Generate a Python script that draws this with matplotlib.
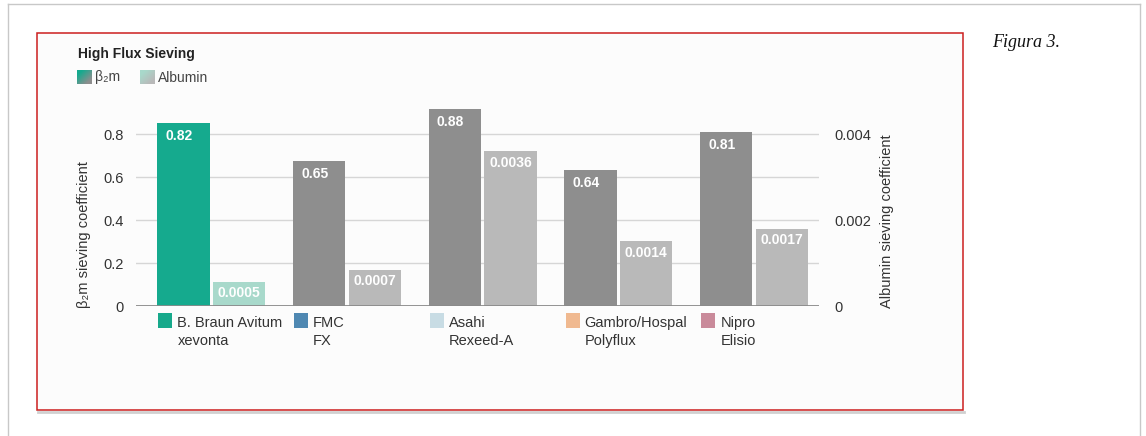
import matplotlib
matplotlib.use('Agg')
import matplotlib.pyplot as plt
import numpy as np
from matplotlib.patches import Rectangle
from matplotlib.lines import Line2D
from matplotlib.transforms import blended_transform_factory
from matplotlib.colors import to_rgb

plt.rcParams['font.family'] = ['Liberation Sans', 'DejaVu Sans']

# ---------------- data ----------------
manufacturers = ['B. Braun Avitum\nxevonta', 'FMC\nFX', 'Asahi\nRexeed-A',
                 'Gambro/Hospal\nPolyflux', 'Nipro\nElisio']
manufacturer_colors = ['#17a98b', '#4f88b2', '#c8dce4', '#f0b990', '#c98a9a']
b2m_values = [0.85, 0.674, 0.915, 0.633, 0.81]          # drawn bar heights
b2m_labels = ['0.82', '0.65', '0.88', '0.64', '0.81']     # printed values
albumin_values = [0.00056, 0.00084, 0.0036, 0.0015, 0.0018]
albumin_labels = ['0.0005', '0.0007', '0.0036', '0.0014', '0.0017']
b2m_ticks = [0, 0.2, 0.4, 0.6, 0.8]
b2m_ticklabels = ['0', '0.2', '0.4', '0.6', '0.8']
alb_ticks = [0, 0.002, 0.004]
alb_ticklabels = ['0', '0.002', '0.004']
title = 'High Flux Sieving'
series_names = ['β₂m', 'Albumin']
ylabel_left = 'β₂m sieving coefficient'
ylabel_right = 'Albumin sieving coefficient'
caption = 'Figura 3.'

# ---------------- style ----------------
W, H = 1146, 436
TEAL, TEAL_LIGHT = '#15aa8e', '#a8d9cb'
GRAY, GRAY_LIGHT = '#8e8e8e', '#b9b9b9'
TXT = '#333333'


def fy(ypx):
    return 1 - ypx / H


def rect(x0, y0, x1, y1):
    return [x0 / W, 1 - y1 / H, (x1 - x0) / W, (y1 - y0) / H]


fig = plt.figure(figsize=(W / 100, H / 100), dpi=100)
fig.patch.set_facecolor('white')

# outer page frame
for xs, ys in [((8, 1140), (4, 4)), ((8, 8), (4, 436)), ((1140, 1140), (4, 436))]:
    fig.add_artist(Line2D([x / W for x in xs], [fy(y) for y in ys],
                          color='#c8c8c8', lw=1, transform=fig.transFigure, zorder=-10))
# shadow + red box
fig.add_artist(Line2D([38 / W, 964 / W], [fy(412), fy(412)], color='#d0d0d0', lw=2,
                      transform=fig.transFigure, zorder=-10))
fig.add_artist(Rectangle((37 / W, fy(410)), (963 - 37) / W, (410 - 33) / H,
                         transform=fig.transFigure, facecolor='#fcfcfc',
                         edgecolor='#cc1f1f', lw=1.1, zorder=-9))

# ---------------- main axes ----------------
ax = fig.add_axes(rect(136, 101.75, 819, 306))
ax.patch.set_visible(False)
ymax = 0.95
ax.set_ylim(0, ymax)
ax.set_xlim(-0.555, 4.478)
x = np.arange(len(manufacturers))
off, bw = 0.205, 0.385

dark_colors = [TEAL if i == 0 else GRAY for i in x]
light_colors = [TEAL_LIGHT if i == 0 else GRAY_LIGHT for i in x]
ax.bar(x - off, b2m_values, width=bw, color=dark_colors, zorder=2)

ax.set_yticks(b2m_ticks)
ax.set_yticklabels(b2m_ticklabels)
ax.set_xticks([])
ax.grid(axis='y', color='#d6d6d6', lw=1)
ax.set_axisbelow(True)
ax.tick_params(axis='y', length=0, pad=9, labelsize=10.5, labelcolor=TXT)
for s in ax.spines.values():
    s.set_visible(False)

ax2 = ax.twinx()
ax2.set_ylim(0, ymax / 200)
ax2.bar(x + off, albumin_values, width=bw, color=light_colors, zorder=2)
ax2.set_yticks(alb_ticks)
ax2.set_yticklabels(alb_ticklabels)
ax2.tick_params(axis='y', length=0, pad=11, labelsize=10.5, labelcolor=TXT)
for s in ax2.spines.values():
    s.set_visible(False)
ax2.axhline(0, color='#8a8a8a', lw=2, zorder=5)

# value labels
for i in x:
    ax.annotate(b2m_labels[i], xy=(i - off - bw / 2, b2m_values[i]),
                xytext=(8 * 0.72, -12.7 * 0.72), textcoords='offset points',
                ha='left', va='center', color='white', fontweight='bold', fontsize=10,
                zorder=6)
    ax2.annotate(albumin_labels[i], xy=(i + off, albumin_values[i]),
                 xytext=(0, -11.5 * 0.72), textcoords='offset points',
                 ha='center', va='center', color='white', fontweight='bold', fontsize=10,
                 zorder=6)

# axis titles
fig.text(84 / W, fy(235), ylabel_left, rotation=90, ha='center', va='center',
         fontsize=10.5, color=TXT)
fig.text(887 / W, fy(221), ylabel_right, rotation=90, ha='center', va='center',
         fontsize=10.5, color=TXT)

# manufacturer legend below bars
tr = blended_transform_factory(ax.transData, fig.transFigure)
for i, (name, c) in enumerate(zip(manufacturers, manufacturer_colors)):
    sq_left = i - off - bw / 2 + 0.008
    ax.add_patch(Rectangle((sq_left, fy(328.3)), 14 / 135.7, 15 / H, transform=tr,
                           facecolor=c, edgecolor='none', clip_on=False))
    for k, line in enumerate(name.split('\n')):
        ax.text(sq_left + 19 / 135.7, fy(326.5 + 18.5 * k), line, transform=tr,
                ha='left', va='baseline', fontsize=10.5, color=TXT, clip_on=False)

# title + series legend
fig.text(78 / W, fy(58.3), title, fontweight='bold', fontsize=10, color='#222222',
         va='baseline', ha='left')


def grad_square(x0, y0, x1, y1, c1, c2):
    a = fig.add_axes(rect(x0, y0, x1, y1))
    n = 40
    gx, gy = np.meshgrid(np.linspace(0, 1, n), np.linspace(0, 1, n))
    t = np.clip((gx + gy) / 2 * 1.6 - 0.3, 0, 1)[..., None]
    img = np.array(to_rgb(c1))[None, None, :] * (1 - t) + np.array(to_rgb(c2))[None, None, :] * t
    a.imshow(img, aspect='auto', interpolation='bilinear')
    a.axis('off')


grad_square(77, 70, 92, 84, TEAL, GRAY)
grad_square(140, 70, 155, 84, TEAL_LIGHT, GRAY_LIGHT)
fig.text(95 / W, fy(81.5), series_names[0], fontsize=10, color='#444444', va='baseline')
fig.text(158 / W, fy(81.5), series_names[1], fontsize=10, color='#444444', va='baseline')

# caption
fig.text(992 / W, fy(47), caption, family='Liberation Serif', style='italic',
         fontsize=13, color='#111111', va='baseline', ha='left')

fig.savefig('out.png', dpi=100)
